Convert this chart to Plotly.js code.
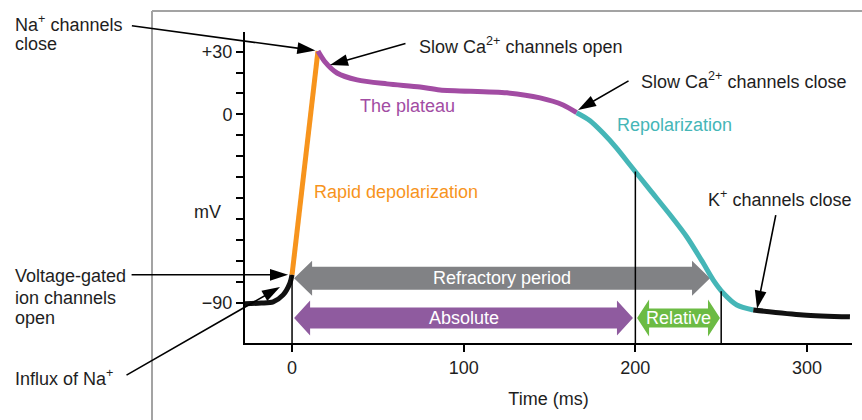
<!DOCTYPE html>
<html><head><meta charset="utf-8">
<script src="https://cdn.plot.ly/plotly-3.0.1.min.js"></script>
<style>html,body{margin:0;padding:0;background:#fff}#chart{width:862px;height:420px}</style>
</head><body><div id="chart"></div>
<script>
// ---------- data ----------
const restT = [-27.4, -18, -11, -5.2, -1.2, 0];
const restV = [-90.5, -90.2, -89.6, -86.3, -80.6, -76.7];
const depolT = [0, 15.1];
const depolV = [-76.7, 30.3];
const plateauT = [15.1, 19.2, 26.2, 37.9, 55.3, 74.6, 86.2, 125.2, 144.5, 157.9, 165.8];
const plateauV = [30.3, 25.1, 19.8, 16.5, 14.6, 13.1, 11.7, 10.3, 7.9, 4.5, 0.8];
const repolT = [165.8, 173.6, 181.3, 189.2, 196.9, 208.5, 220.2, 229.9, 239.6, 245.4, 251.3, 259.1, 268.7];
const repolV = [0.8, -3.0, -9.0, -16.2, -24.2, -36.1, -48.0, -58.5, -71.2, -79.2, -85.5, -91.1, -93.5];
const afterT = [268.7, 297.7, 325];
const afterV = [-93.5, -95.9, -96.8];

const dropT = [0, 200, 250];
const dropV = [-76.7, -27.3, -84.5];

const periodNames = ['Refractory period', 'Absolute', 'Relative'];
const periodStart = [1.2, 1.2, 201];
const periodEnd = [243.5, 198.6, 249.3];
const periodLevel = [-78.4, -97.3, -97.3];

const eventT = [13.6, 22.1, 166.6, 270.9, -2.3, -7.0];
const eventV = [30.5, 23.6, 2.1, -92.9, -76.7, -82.5];

const xTickVals = [0, 100, 200, 300];
const xTickText = ['0', '100', '200', '300'];
const yTickVals = [-90, 0, 30];
const yTickText = ['\u221290', '0', '+30'];
const yMinorTicks = [-80, -70, -60, -50, -40, -30, -20, -10, 10, 20];

// ---------- layout constants ----------
const W = 862, H = 420;
const M = {l: 245, r: 10, t: 32, b: 77};
const xRange = [-27.4, 326.2];
const yRange = [-109.3, 39.4];
const plotW = W - M.l - M.r, plotH = H - M.t - M.b;
const kx = plotW / (xRange[1] - xRange[0]);
const ky = plotH / (yRange[1] - yRange[0]);
const px = v => (v - M.l) / plotW;
const py = v => (H - M.b - v) / plotH;

const FONT = 'Liberation Sans, Arial, Helvetica, sans-serif';
const C = {
  orange: '#f7941d', purple: '#a24ca3', teal: '#45b6b7', black: '#111',
  gray: '#818285', absP: '#8f5b9f', green: '#6cbb44', frame: '#a3a3a3', text: '#1e1e1e'
};

function line(x, y, color, w) {
  return {type: 'scatter', mode: 'lines', x: x, y: y, hoverinfo: 'skip', showlegend: false,
          line: {color: color, width: w, shape: 'spline', smoothing: 0.8}};
}

const traces = [
  line(restT, restV, C.black, 5),
  line(depolT, depolV, C.orange, 5),
  line(plateauT, plateauV, C.purple, 5),
  line(repolT, repolV, C.teal, 5),
  line(afterT, afterV, C.black, 5)
];
// drop lines
dropT.forEach((t, i) => {
  traces.push({type: 'scatter', mode: 'lines', x: [t, t], y: [dropV[i], yRange[0]],
    hoverinfo: 'skip', showlegend: false, line: {color: '#000', width: 1.5}});
});

// arrow callouts
const tails = [[-185, -25], [77, -22], [52, -30], [19, -95], [-158, 0], [-155, 89]];
const angles = tails.map(([ax, ay]) => Math.atan2(-ax, ay) * 180 / Math.PI);
traces.push({type: 'scatter', mode: 'markers', x: eventT, y: eventV, hoverinfo: 'skip',
  showlegend: false, cliponaxis: false,
  marker: {symbol: 'arrow', size: 19, color: '#000', angle: angles, line: {width: 0}}});

const annotations = [];
eventT.forEach((t, i) => {
  annotations.push({x: t, y: eventV[i], xref: 'x', yref: 'y', ax: tails[i][0], ay: tails[i][1],
    axref: 'pixel', ayref: 'pixel', text: '', showarrow: true, arrowhead: 0,
    arrowwidth: 1.6, arrowcolor: '#000', standoff: 9});
});

function label(text, x, y, color, anchor) {
  annotations.push({text: text, xref: 'paper', yref: 'paper', x: px(x), y: py(y),
    xanchor: anchor || 'left', yanchor: 'middle', showarrow: false, align: 'left',
    font: {family: FONT, size: 18, color: color || C.text}});
}
label('Na<sup>+</sup> channels', 13, 23);
label('close', 13, 44);
label('Slow Ca<sup>2+</sup> channels open', 417, 45);
label('Slow Ca<sup>2+</sup> channels close', 639, 80);
label('The plateau', 358, 106, C.purple);
label('Repolarization', 615, 125, C.teal);
label('Rapid depolarization', 312, 192, C.orange);
label('mV', 207, 212, C.text, 'center');
label('K<sup>+</sup> channels close', 706, 198);
label('Voltage-gated', 13, 276);
label('ion channels', 13, 298);
label('open', 13, 318);
label('Influx of Na<sup>+</sup>', 13, 377);

// period double arrows
const periodColors = [C.gray, C.absP, C.green];
const periodGeom = [[18, 11.5, 17.5], [16, 10.5, 17.5], [12, 9.5, 18.5]];
function dblArrow(t0, t1, v, g) {
  const hx = g[0] / kx, bh = g[1] / ky, hh = g[2] / ky;
  return `M${t0},${v} L${t0 + hx},${v + hh} L${t0 + hx},${v + bh} L${t1 - hx},${v + bh} ` +
         `L${t1 - hx},${v + hh} L${t1},${v} L${t1 - hx},${v - hh} L${t1 - hx},${v - bh} ` +
         `L${t0 + hx},${v - bh} L${t0 + hx},${v - hh} Z`;
}
const shapes = [];
periodNames.forEach((n, i) => {
  shapes.push({type: 'path', xref: 'x', yref: 'y', layer: 'below',
    path: dblArrow(periodStart[i], periodEnd[i], periodLevel[i], periodGeom[i]),
    fillcolor: periodColors[i], line: {width: 0}});
  annotations.push({text: n, x: (periodStart[i] + periodEnd[i]) / 2, y: periodLevel[i],
    xref: 'x', yref: 'y', showarrow: false, xanchor: 'center', yanchor: 'middle',
    font: {family: FONT, size: 18, color: '#fff'}});
});
// frame
shapes.push({type: 'line', xref: 'paper', yref: 'paper', x0: px(152), x1: px(152), y0: py(11), y1: py(430),
  line: {color: C.frame, width: 2}});
shapes.push({type: 'line', xref: 'paper', yref: 'paper', x0: px(152), x1: px(875), y0: py(11), y1: py(11),
  line: {color: C.frame, width: 2}});

const axisCommon = {showline: true, linecolor: '#000', linewidth: 2, ticks: 'outside', ticklen: 7,
  tickwidth: 2, tickcolor: '#000', showgrid: false, zeroline: false, automargin: false,
  tickfont: {family: FONT, size: 18, color: C.text}, fixedrange: true};

const layout = {
  width: W, height: H, margin: M, paper_bgcolor: '#fff', plot_bgcolor: '#fff',
  hovermode: false, showlegend: false,
  xaxis: Object.assign({}, axisCommon, {range: xRange, tickmode: 'array', tickvals: xTickVals,
    ticktext: xTickText, title: {text: 'Time (ms)', font: {family: FONT, size: 18, color: C.text}, standoff: 16}}),
  yaxis: Object.assign({}, axisCommon, {range: yRange, tickmode: 'array', tickvals: yTickVals,
    ticktext: yTickText,
    minor: {tickmode: 'array', tickvals: yMinorTicks, ticks: 'outside', ticklen: 7, tickwidth: 2,
            tickcolor: '#000', showgrid: false}}),
  annotations: annotations, shapes: shapes
};

Plotly.newPlot('chart', traces, layout, {staticPlot: true, displayModeBar: false});
</script></body></html>
